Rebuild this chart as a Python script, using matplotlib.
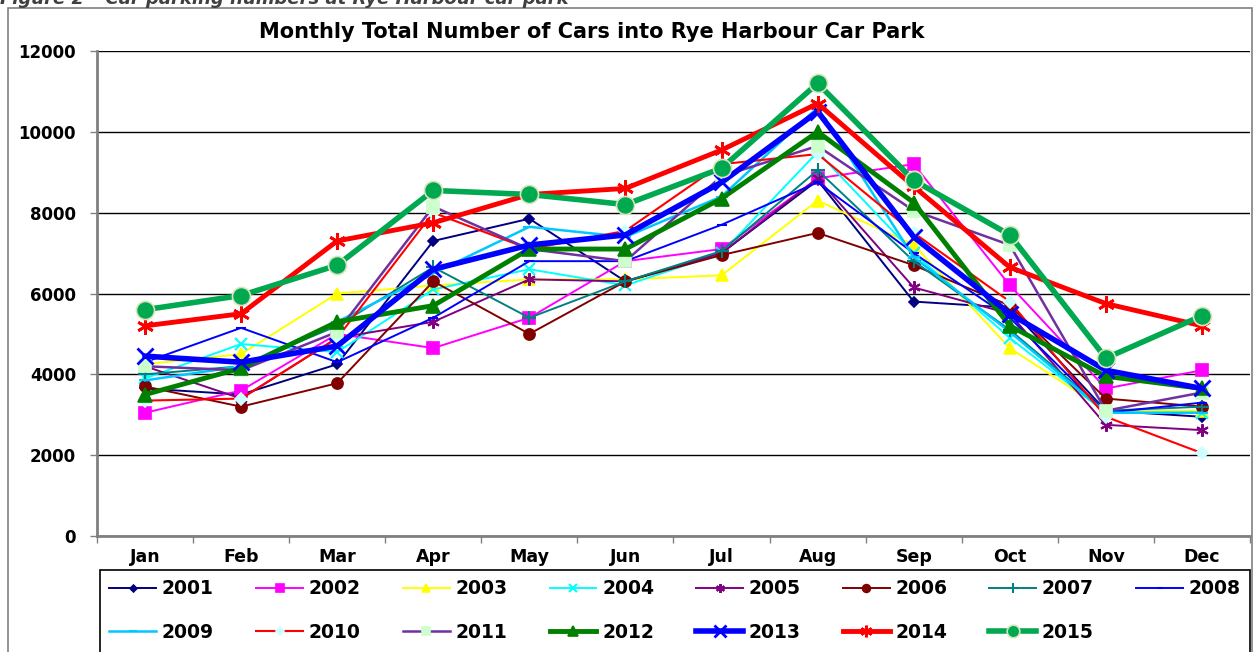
import matplotlib.pyplot as plt
import numpy as np
from matplotlib.patches import Rectangle

plt.rcParams['font.family'] = ['DejaVu Sans']

# Monate und Jahre
months = ["Jan", "Feb", "Mar", "Apr", "May", "Jun", "Jul", "Aug", "Sep", "Oct", "Nov", "Dec"]

y2001 = [3650, 3500, 4250, 7300, 7850, 6300, 7000, 8800, 5800, 5650, 3100, 2950]
y2002 = [3050, 3600, 5000, 4650, 5400, 6800, 7100, 8850, 9200, 6200, 3650, 4100]
y2003 = [4250, 4500, 6000, 6200, 6350, 6350, 6450, 8300, 7200, 4650, 3100, 3100]
y2004 = [3900, 4750, 4550, 6100, 6600, 6200, 7000, 9500, 7000, 4900, 3050, 3050]
y2005 = [4200, 3400, 4900, 5300, 6350, 6300, 7000, 8850, 6150, 5500, 2750, 2620]
y2006 = [3700, 3200, 3780, 6300, 5000, 6300, 6950, 7500, 6700, 5700, 3400, 3200]
y2007 = [4000, 4200, 5200, 6650, 5400, 6300, 7050, 9050, 6800, 5100, 3100, 3200]
y2008 = [4300, 5150, 4300, 5400, 6800, 6800, 7700, 8750, 7000, 5400, 3050, 3300]
y2009 = [3850, 4200, 5300, 6500, 7650, 7400, 8400, 10600, 6900, 5050, 3050, 3050]
y2010 = [3350, 3400, 4900, 8000, 7100, 7550, 9200, 9450, 7500, 5800, 2950, 2050]
y2011 = [4200, 4100, 5050, 8150, 7100, 6800, 8900, 9650, 8050, 7200, 3100, 3550]
y2012 = [3500, 4150, 5300, 5700, 7100, 7100, 8350, 10000, 8250, 5200, 3950, 3650]
y2013 = [4450, 4300, 4700, 6600, 7200, 7450, 8750, 10500, 7400, 5500, 4100, 3650]
y2014 = [5200, 5500, 7300, 7750, 8450, 8600, 9550, 10700, 8650, 6650, 5750, 5200]
y2015 = [5600, 5950, 6700, 8550, 8450, 8200, 9100, 11200, 8800, 7450, 4400, 5450]

# (Label, Daten, Linienfarbe, Breite, Marker, Markergroesse, Markerfarbe, Randfarbe)
stars = (6, 2, 0)
reihen = [
    ("2001", y2001, "#000080", 1.4, "D", 5, "#000080", "#000080"),
    ("2002", y2002, "#FF00FF", 1.4, "s", 9, "#FF00FF", "#FF00FF"),
    ("2003", y2003, "#FFFF00", 1.4, "^", 9, "#FFFF00", "#FFFF00"),
    ("2004", y2004, "#00FFFF", 1.4, "x", 8, "#00FFFF", "#00FFFF"),
    ("2005", y2005, "#800080", 1.4, stars, 9, "#800080", "#800080"),
    ("2006", y2006, "#800000", 1.4, "o", 8, "#800000", "#800000"),
    ("2007", y2007, "#008080", 1.4, "+", 10, "#008080", "#008080"),
    ("2008", y2008, "#0000FF", 1.4, "_", 7, "#0000FF", "#0000FF"),
    ("2009", y2009, "#00C8FF", 1.8, "_", 9, "#00C8FF", "#00C8FF"),
    ("2010", y2010, "#FF0000", 1.5, "D", 6, "#CCFFFF", "#CCFFFF"),
    ("2011", y2011, "#7030A0", 1.8, "s", 9, "#CCFFCC", "#CCFFCC"),
    ("2012", y2012, "#008000", 3.5, "^", 10, "#008000", "#008000"),
    ("2013", y2013, "#0000FF", 4.0, "x", 12, "#0000FF", "#0000FF"),
    ("2014", y2014, "#FF0000", 3.5, stars, 12, "#FF0000", "#FF0000"),
    ("2015", y2015, "#00A850", 4.0, "o", 13, "#00A850", "#D8E4BC"),
]

fig = plt.figure(figsize=(12.6, 6.52), dpi=100)
ax = fig.add_axes([97/1260, 1-536/652, (1250-97)/1260, (536-51)/652])

x = np.arange(len(months))
handles = {}
for name, werte, farbe, lw, mk, ms, mfc, mec in reihen:
    mew = 1.5 if mk in ("x", "+", "_", stars) else 1.2
    if name in ("2013", "2014"):
        mew = 2.0
    h, = ax.plot(x, werte, color=farbe, lw=lw, marker=mk, ms=ms, mfc=mfc, mec=mec,
                 mew=mew, label=name, zorder=2)
    handles[name] = h

ax.set_xlim(-0.5, 11.5)
ax.set_ylim(0, 12000)
ax.set_yticks(np.arange(0, 12001, 2000))
ax.set_xticks(x)
ax.set_xticklabels(months, fontsize=12.5, fontweight="bold")
for t in ax.get_yticklabels():
    t.set_fontsize(12)
    t.set_fontweight("bold")
ax.set_xticks(np.arange(-0.5, 12, 1), minor=True)
ax.tick_params(axis="x", which="major", length=0, pad=9)
ax.tick_params(axis="x", which="minor", length=5, width=1, color="#808080")
ax.tick_params(axis="y", length=5, width=1, color="#808080", pad=10)
ax.grid(axis="y", color="black", lw=1.0, zorder=0)
ax.set_axisbelow(True)
for s in ("top", "right"):
    ax.spines[s].set_visible(False)
ax.spines["left"].set_color("#808080")
ax.spines["left"].set_linewidth(2)
ax.spines["bottom"].set_color("#808080")
ax.spines["bottom"].set_linewidth(2)

fig.text(592/1260, 1-32/652, "Monthly Total Number of Cars into Rye Harbour Car Park",
         ha="center", va="center", fontsize=15, fontweight="bold")

# Ueberschrift (oben abgeschnitten)
fig.text(0.0, 1-4/652, "Figure 2 \u2013 Car parking numbers at Rye Harbour car park",
         ha="left", va="baseline", fontsize=13, fontweight="bold", style="italic", color="#404040")

# Rahmen um das Diagramm
fig.patches.append(Rectangle((8/1260, -0.05), (1252-8)/1260, 1.05-8/652, transform=fig.transFigure,
                             fill=False, edgecolor="#808080", lw=1.2))
# Rahmen der Legende (laeuft unten aus dem Bild)
fig.patches.append(Rectangle((100/1260, -0.05), 1150/1260, 0.05+1-570/652, transform=fig.transFigure,
                             fill=False, edgecolor="black", lw=1.2))

# Legende: zeilenweise Reihenfolge
reihenfolge = ["2001", "2009", "2002", "2010", "2003", "2011", "2004", "2012",
               "2005", "2013", "2006", "2014", "2007", "2015", "2008"]
leg = fig.legend([handles[n] for n in reihenfolge], reihenfolge, ncol=8,
                 loc="upper left", bbox_to_anchor=(100/1260, -0.05, 1150/1260, 0.05+1-570/652),
                 mode="expand", frameon=False,
                 prop={"weight": "bold", "size": 13.5}, handlelength=2.5, handletextpad=0.3,
                 borderaxespad=0, labelspacing=1.3, borderpad=0.5, markerscale=0.7)

plt.savefig("out.png", dpi=100)
